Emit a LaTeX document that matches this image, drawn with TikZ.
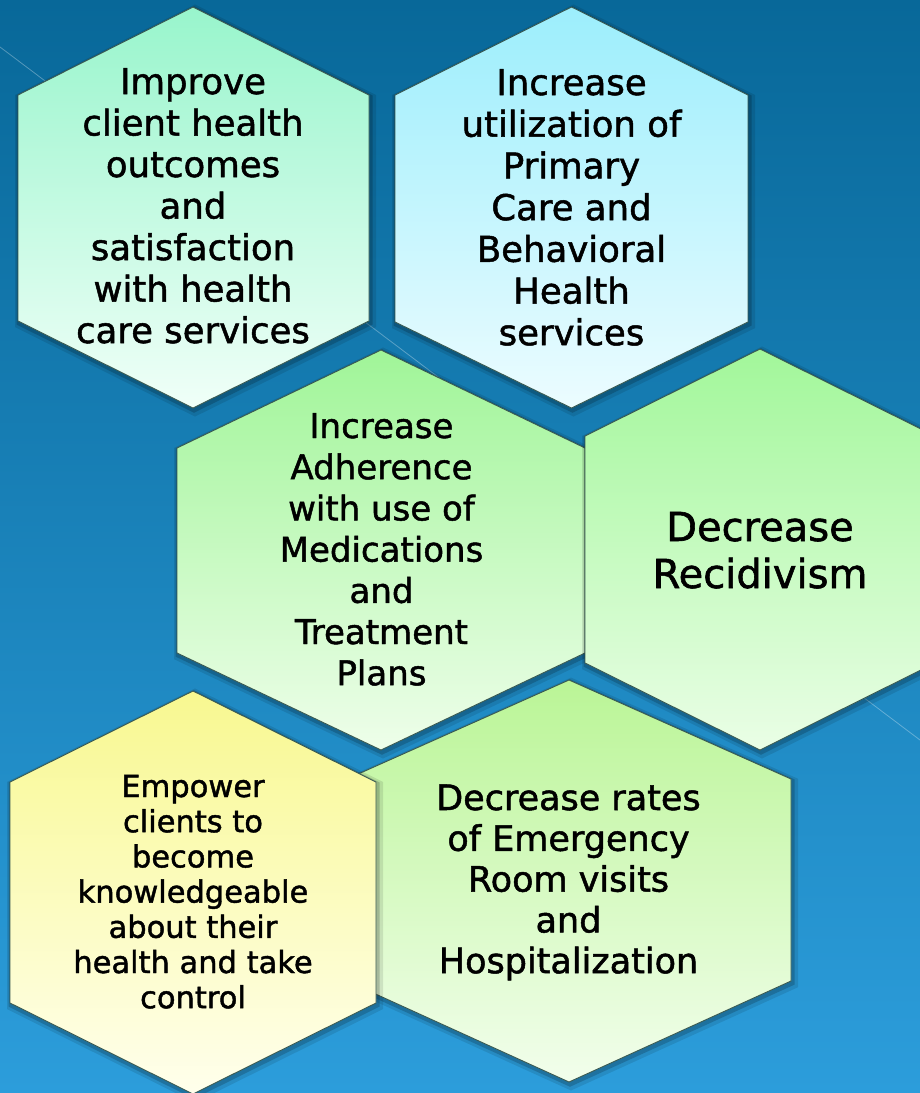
\documentclass[tikz,border=0pt]{standalone}
\usepackage{fontspec}
\setmainfont{DejaVu Sans}[FakeBold=1.4]
\definecolor{bgtop}{HTML}{086899}
\definecolor{bgbot}{HTML}{2C9DDB}
\definecolor{hexedge}{HTML}{3A5A52}
\definecolor{hAt}{HTML}{98F5CC}\definecolor{hAb}{HTML}{F0FFF8}
\definecolor{hBt}{HTML}{9CEEFC}\definecolor{hBb}{HTML}{ECFCFF}
\definecolor{hCt}{HTML}{A0F598}\definecolor{hCb}{HTML}{EEFEEA}
\definecolor{hDt}{HTML}{A2F79A}\definecolor{hDb}{HTML}{EAFEE6}
\definecolor{hEt}{HTML}{F8F890}\definecolor{hEb}{HTML}{FFFFEC}
\definecolor{hFt}{HTML}{BAF596}\definecolor{hFb}{HTML}{F2FEEC}
\tikzset{
  hexline/.style={draw=hexedge, line width=0.9pt, line join=miter},
  glowA/.style={draw=black, draw opacity=0.10, line width=10pt, line join=miter},
  glowB/.style={draw=black, draw opacity=0.18, line width=5pt, line join=miter},
  lbl/.style={inner sep=0pt, anchor=base, text=black},
  faint/.style={draw=white, draw opacity=0.30, line width=0.8pt}
}
% #1 top x, #2 top y, #3 left x, #4 right x, #5 upper shoulder y, #6 lower shoulder y, #7 bottom y, #8 fill style
\newcommand{\hexagonshape}[8]{%
  \draw[glowA, xshift=2pt, yshift=-3pt] (#1,#2) -- (#4,#5) -- (#4,#6) -- (#1,#7) -- (#3,#6) -- (#3,#5) -- cycle;
  \draw[glowB, xshift=1pt, yshift=-2pt] (#1,#2) -- (#4,#5) -- (#4,#6) -- (#1,#7) -- (#3,#6) -- (#3,#5) -- cycle;
  \draw[hexline, #8] (#1,#2) -- (#4,#5) -- (#4,#6) -- (#1,#7) -- (#3,#6) -- (#3,#5) -- cycle;
}
\begin{document}
\begin{tikzpicture}[x=1pt,y=-1pt]
\useasboundingbox (0,0) rectangle (920,1093);
\shade[top color=bgtop, bottom color=bgbot] (0,0) rectangle (920,1093);
\coordinate (la) at (0,47);
\coordinate (lb) at (920,740);
\draw[faint] (la) -- (lb);

% hexagons
\hexagonshape{193}{7}{18}{369}{95}{321}{408}{top color=hAt, bottom color=hAb}
\hexagonshape{571.5}{7}{395}{748}{95}{322}{408}{top color=hBt, bottom color=hBb}
\hexagonshape{381}{350}{177}{585}{448}{653}{750}{top color=hCt, bottom color=hCb}
\hexagonshape{760}{349}{585}{935}{436}{663}{750}{top color=hDt, bottom color=hDb}
\hexagonshape{569}{680}{347}{791}{779}{981}{1082}{top color=hFt, bottom color=hFb}
\hexagonshape{193}{691}{10}{376}{782}{1003}{1094}{top color=hEt, bottom color=hEb}

% texts
\node[lbl, font={\fontsize{35.5}{41.5}\selectfont}] (t1) at (193,94)
  {\begin{tabular}[t]{@{}c@{}}Improve\\client health\\outcomes\\and\\satisfaction\\with health\\care services\end{tabular}};
\node[lbl, font={\fontsize{35.5}{41.7}\selectfont}] (t2) at (571.5,95)
  {\begin{tabular}[t]{@{}c@{}}Increase\\utilization of\\Primary\\Care and\\Behavioral\\Health\\services\end{tabular}};
\node[lbl, font={\fontsize{34}{41.2}\selectfont}] (t3) at (381.5,438)
  {\begin{tabular}[t]{@{}c@{}}Increase\\Adherence\\with use of\\Medications\\and\\Treatment\\Plans\end{tabular}};
\node[lbl, font={\fontsize{40}{47}\selectfont}] (t4) at (760,541)
  {\begin{tabular}[t]{@{}c@{}}Decrease\\Recidivism\end{tabular}};
\node[lbl, font={\fontsize{30.5}{35.2}\selectfont}] (t5) at (193,797)
  {\begin{tabular}[t]{@{}c@{}}Empower\\clients to\\become\\knowledgeable\\about their\\health and take\\control\end{tabular}};
\node[lbl, font={\fontsize{35}{40.8}\selectfont}] (t6) at (568.5,810)
  {\begin{tabular}[t]{@{}c@{}}Decrease rates\\of Emergency\\Room visits\\and\\Hospitalization\end{tabular}};
\end{tikzpicture}
\end{document}
